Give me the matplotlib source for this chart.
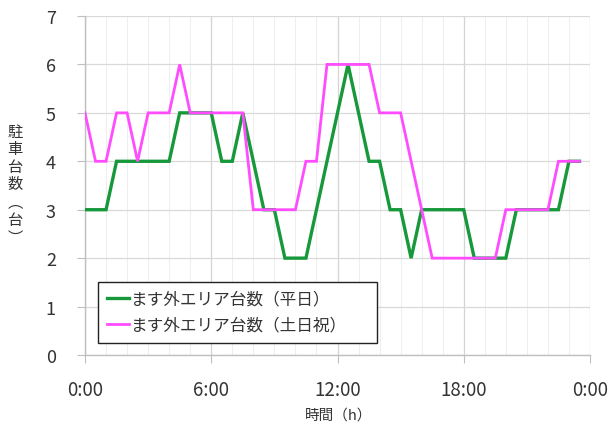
import numpy as np
import matplotlib
matplotlib.use("Agg")
import matplotlib.pyplot as plt
from matplotlib.ticker import MultipleLocator

plt.rcParams['font.family'] = ['Noto Sans CJK JP', 'DejaVu Sans']

# 30-minute time slots, 0:00 - 23:30 (hours)
hours = np.arange(48) * 0.5

weekday = [3, 3, 3, 4, 4, 4, 4, 4, 4, 5, 5, 5,
           5, 4, 4, 5, 4, 3, 3, 2, 2, 2, 3, 4,
           5, 6, 5, 4, 4, 3, 3, 2, 3, 3, 3, 3,
           3, 2, 2, 2, 2, 3, 3, 3, 3, 3, 4, 4]

holiday = [5, 4, 4, 5, 5, 4, 5, 5, 5, 6, 5, 5,
           5, 5, 5, 5, 3, 3, 3, 3, 3, 4, 4, 6,
           6, 6, 6, 6, 5, 5, 5, 4, 3, 2, 2, 2,
           2, 2, 2, 2, 3, 3, 3, 3, 3, 4, 4, 4]

label_weekday = "ます外エリア台数（平日）"
label_holiday = "ます外エリア台数（土日祝）"
xtick_pos = [0, 6, 12, 18, 24]
xtick_labels = ["0:00", "6:00", "12:00", "18:00", "0:00"]

fig = plt.figure(figsize=(6.13, 4.31), dpi=100)
ax = fig.add_axes([85 / 613, 1 - 356 / 431, 505 / 613, 339 / 431])

ax.plot(hours, weekday, color="#17983a", lw=2.4, label=label_weekday,
        solid_joinstyle="miter", zorder=3)
ax.plot(hours, holiday, color="#ff4cff", lw=2.0, label=label_holiday,
        solid_joinstyle="miter", zorder=4)

ax.set_xlim(0, 24)
ax.set_ylim(0, 7)
ax.set_xticks(xtick_pos)
ax.set_xticklabels(xtick_labels)
ax.xaxis.set_minor_locator(MultipleLocator(1))
ax.set_yticks(range(0, 8))

ax.grid(axis="y", which="major", color="#d9d9d9", lw=0.9)
ax.grid(axis="x", which="major", color="#d4d4d4", lw=0.9)
ax.grid(axis="x", which="minor", color="#efefef", lw=0.8)
ax.set_axisbelow(True)

for s in ["top", "right"]:
    ax.spines[s].set_visible(False)
for s in ["left", "bottom"]:
    ax.spines[s].set_color("#bfbfbf")
    ax.spines[s].set_linewidth(1.0)

ax.tick_params(axis="y", which="major", length=6, color="#bfbfbf",
               labelsize=13, pad=15, labelcolor="#333333")
ax.tick_params(axis="x", which="major", length=6, color="#bfbfbf",
               labelsize=13.5, pad=11, labelcolor="#333333")
ax.tick_params(axis="x", which="minor", length=0)

fig.text(339 / 613, 1 - 416 / 431, "時間（h）", ha="center", va="center",
         fontsize=10.5, color="#333333")
fig.text(15 / 613, 1 - 185 / 431, "駐\n車\n台\n数\n︵\n台\n︶", ha="center",
         va="center", fontsize=11, color="#333333", linespacing=1.05)

leg = ax.legend(loc="lower left", mode="expand",
                bbox_to_anchor=(13 / 505, 12 / 339, 279 / 505, 62 / 339),
                borderaxespad=0, fontsize=12, frameon=True, fancybox=False,
                edgecolor="#222222", handlelength=1.3, handletextpad=0.1,
                labelspacing=0.55, borderpad=0.55)
leg.get_frame().set_linewidth(1.0)
leg.get_frame().set_facecolor("white")
leg.get_frame().set_alpha(1)
for t in leg.get_texts():
    t.set_color("#333333")

fig.savefig("out.png", dpi=100, facecolor="white")
